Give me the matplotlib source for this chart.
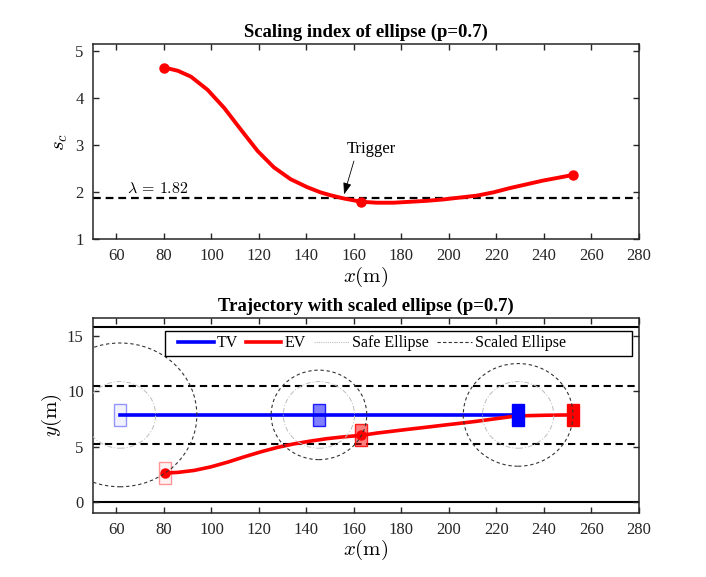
import numpy as np
import matplotlib
matplotlib.use("Agg")
import matplotlib.pyplot as plt
from matplotlib.patches import Rectangle, Ellipse
from matplotlib.lines import Line2D

plt.rcParams["font.family"] = ["Liberation Serif", "DejaVu Serif"]
plt.rcParams["mathtext.fontset"] = "cm"

# scaling index along x
s_x = [80.2, 85.9, 91.4, 98.4, 105.4, 112.4, 119.4, 126.3, 133.3, 140.3, 145.9, 150.0, 155.7,
       163.0, 169.7, 176.7, 183.7, 190.7, 197.7, 204.7, 211.7, 218.7, 225.6, 232.6, 239.6, 246.0, 252.2]
s_c = [4.65, 4.58, 4.455, 4.175, 3.79, 3.33, 2.88, 2.53, 2.28, 2.11, 2.00, 1.94, 1.87,
       1.80, 1.78, 1.78, 1.80, 1.82, 1.85, 1.89, 1.93, 2.00, 2.09, 2.17, 2.25, 2.31, 2.37]
snap_idx = [0, 13, 26]
lam_line = 1.875
lam_text = r"$\lambda\,=\,1.82$"

# trajectories
tv_x = [61.5, 229.1]
tv_y = [7.875, 7.875]
ev_x = [80.3, 85.9, 92.8, 99.8, 106.8, 113.8, 120.8, 127.8, 134.8, 141.8, 148.8, 155.7, 163.1,
        169.7, 176.7, 183.7, 190.7, 197.7, 204.7, 211.7, 218.6, 226.3, 232.0, 240.0, 246.0, 252.1]
ev_y = [2.64, 2.70, 2.88, 3.20, 3.62, 4.10, 4.55, 4.95, 5.27, 5.52, 5.74, 5.90, 6.03,
        6.24, 6.42, 6.60, 6.77, 6.95, 7.12, 7.30, 7.50, 7.72, 7.80, 7.84, 7.86, 7.87]

# snapshots
tv_snap_x = [61.5, 145.25, 229.1]
tv_snap_y = [7.875, 7.875, 7.875]
ev_snap_x = [80.3, 163.1, 252.1]
ev_snap_y = [2.64, 6.03, 7.87]
snap_s = [4.65, 1.80, 2.37]
snap_alpha = [0.05, 0.5, 1.0]
veh_len, veh_wid = 5.0, 2.0
safe_a, safe_b = 15.0, 3.0

lane_solid = [0.0, 15.75]
lane_dash = [5.25, 10.5]

fig = plt.figure(figsize=(7.06, 5.77), dpi=100)
ax1 = fig.add_axes([0.1313, 0.585, 0.7738, 0.3388])
ax2 = fig.add_axes([0.1313, 0.111, 0.7738, 0.338])

frame = "#262626"
for ax in (ax1, ax2):
    for sp in ax.spines.values():
        sp.set_linewidth(1.1)
        sp.set_color(frame)
    ax.tick_params(direction="in", length=4, width=1.0, top=True, right=True,
                   labelsize=12, colors=frame, pad=6.5)
    ax.set_xlim(50, 280)
    ax.set_xticks(np.arange(60, 281, 20))
    ax.set_xlabel(r"$x(\mathrm{m})$", fontsize=15, labelpad=0)

# top plot
ax1.plot(s_x, s_c, color="red", lw=2.8, zorder=3)
ax1.plot([s_x[i] for i in snap_idx], [s_c[i] for i in snap_idx], "o", color="red", ms=6.5, zorder=4)
ax1.axhline(lam_line, color="black", lw=1.6, dashes=(3.5, 2.2), zorder=2)
ax1.text(64.5, 2.0, lam_text, fontsize=11.5, ha="left", va="baseline")
ax1.annotate("", xy=(155.5, 1.90), xytext=(160.3, 2.72),
             arrowprops=dict(arrowstyle="-|>,head_length=0.7,head_width=0.25", color="black", lw=0.6))
ax1.text(167.5, 2.91, "Trigger", fontsize=12, ha="center", va="center")
ax1.set_ylim(1, 5.15)
ax1.set_yticks([1, 2, 3, 4, 5])
ax1.set_ylabel(r"$s_c$", fontsize=15, labelpad=4)
ax1.set_title("Scaling index of ellipse (p=0.7)", fontsize=13.5, fontweight="bold", pad=5)

# bottom plot
for y in lane_solid:
    ax2.axhline(y, color="black", lw=1.5, zorder=1)
for y in lane_dash:
    ax2.axhline(y, color="black", lw=1.5, dashes=(3.5, 2.2), zorder=1)

ax2.plot(tv_x, tv_y, color="blue", lw=2.6, zorder=2)
ax2.plot(ev_x, ev_y, color="red", lw=2.6, zorder=2)

for i in range(3):
    al = snap_alpha[i]
    ax2.add_patch(Rectangle((tv_snap_x[i] - veh_len / 2, tv_snap_y[i] - veh_wid / 2), veh_len, veh_wid,
                            facecolor=(0, 0, 1, al), edgecolor=(0, 0, 1, min(1, al + 0.35)), lw=1, zorder=3))
    ax2.add_patch(Rectangle((ev_snap_x[i] - veh_len / 2, ev_snap_y[i] - veh_wid / 2), veh_len, veh_wid,
                            facecolor=(1, 0, 0, al), edgecolor=(1, 0, 0, min(1, al + 0.35)), lw=1, zorder=3))
    k = np.sqrt(snap_s[i])
    ax2.add_patch(Ellipse((tv_snap_x[i], tv_snap_y[i]), 2 * safe_a, 2 * safe_b, fill=False,
                          edgecolor="#bdbdbd", lw=0.7, linestyle=(0, (5, 2, 1, 2)), zorder=5))
    ax2.add_patch(Ellipse((tv_snap_x[i], tv_snap_y[i]), 2 * safe_a * k, 2 * safe_b * k, fill=False,
                          edgecolor="#333333", lw=0.8, linestyle=(0, (3, 2.5)), zorder=5))

ax2.plot(ev_snap_x[:2], ev_snap_y[:2], "o", color="red", ms=6.5, zorder=4)

ax2.set_ylim(-0.95, 16.6)
ax2.set_yticks([0, 5, 10, 15])
ax2.set_ylabel(r"$y(\mathrm{m})$", fontsize=15, labelpad=2)
ax2.set_title("Trajectory with scaled ellipse (p=0.7)", fontsize=13.5, fontweight="bold", pad=5)

# legend with wide MATLAB-like box
ax2.add_patch(Rectangle((0.133, 0.805), 0.855, 0.128, transform=ax2.transAxes,
                        facecolor="white", edgecolor="black", lw=1.0, zorder=8))
handles = [Line2D([], [], color="blue", lw=2.6),
           Line2D([], [], color="red", lw=2.6),
           Line2D([], [], color="#bdbdbd", lw=0.8, linestyle=(0, (1, 1))),
           Line2D([], [], color="#333333", lw=0.8, linestyle=(0, (3, 2)))]
leg = ax2.legend(handles, ["TV", "EV", "Safe Ellipse", "Scaled Ellipse"], ncol=4, frameon=False,
                 loc="center left", bbox_to_anchor=(0.157, 0.869), borderpad=0, borderaxespad=0,
                 handlelength=2.2, handletextpad=0.2, columnspacing=0.5, fontsize=11.5)
leg.set_zorder(9)

fig.savefig("out.png", dpi=100)
